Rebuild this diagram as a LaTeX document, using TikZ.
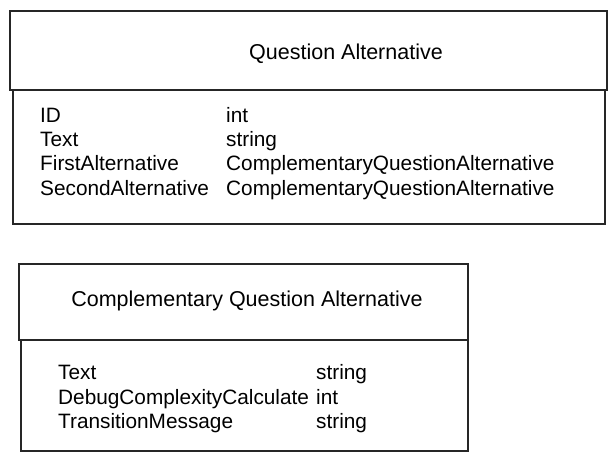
\documentclass[tikz,border=0pt]{standalone}
\usepackage{fontspec}
\setmainfont{Liberation Sans}
\usetikzlibrary{positioning}
\tikzset{
  box/.style={draw=black!85, line width=1.5pt, rectangle, inner sep=0pt, anchor=north west},
  title/.style={anchor=base, inner sep=0pt, font=\fontsize{21.5}{25}\selectfont},
  field/.style={anchor=base west, inner sep=0pt, font=\fontsize{20.8}{24}\selectfont}
}
\begin{document}
\begin{tikzpicture}[x=1pt,y=-1pt]
\useasboundingbox (0,0) rectangle (614,461);
\node[box, minimum width=597pt, minimum height=79pt] (qaHead) at (9,10) {};
\node[box, minimum width=592pt, minimum height=134pt] (qaBody) at (12,89) {};
\node[title] (qaTitle) at (346,59) {Question Alternative};
\node[field] (qaId) at (40,122) {ID};
\node[field] (qaText) at (40,146) {Text};
\node[field] (qaFirst) at (40,170) {FirstAlternative};
\node[field] (qaSecond) at (40,195) {SecondAlternative};
\node[field] (qaIdType) at (226,122) {int};
\node[field] (qaTextType) at (226,146) {string};
\node[field] (qaFirstType) at (226,170) {ComplementaryQuestionAlternative};
\node[field] (qaSecondType) at (226,195) {ComplementaryQuestionAlternative};

\node[box, minimum width=449pt, minimum height=76pt] (cqaHead) at (18,263) {};
\node[box, minimum width=447pt, minimum height=111pt] (cqaBody) at (20,339) {};
\node[title] (cqaTitle) at (247,306) {Complementary Question Alternative};
\node[field] (cqaText) at (58,379) {Text};
\node[field] (cqaDebug) at (58,404) {DebugComplexityCalculate};
\node[field] (cqaMsg) at (58,428) {TransitionMessage};
\node[field] (cqaTextType) at (316,379) {string};
\node[field] (cqaDebugType) at (316,404) {int};
\node[field] (cqaMsgType) at (316,428) {string};
\end{tikzpicture}
\end{document}
